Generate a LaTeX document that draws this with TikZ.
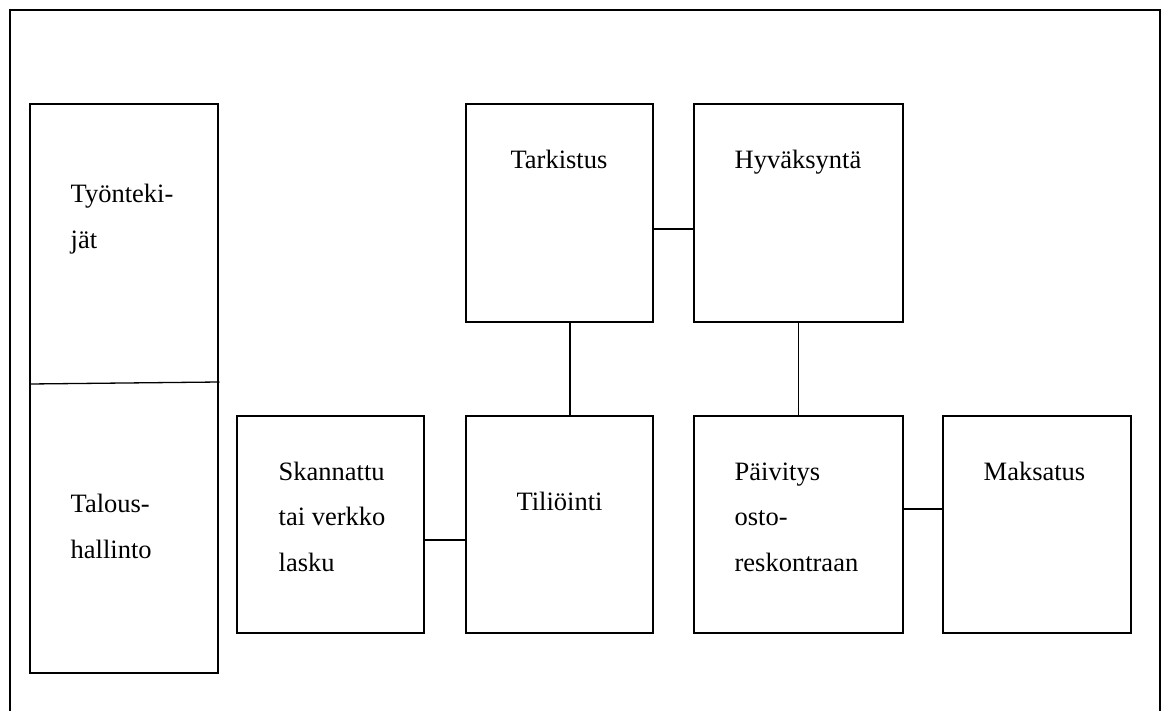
\documentclass[tikz,border=0pt]{standalone}
\usepackage{fontspec}
\setmainfont{Liberation Serif}
\begin{document}
\begin{tikzpicture}[x=1pt,y=-1pt,
  line width=1.3pt,
  box/.style={draw,rectangle,inner sep=0pt,outer sep=0pt,anchor=north west},
  lbl/.style={inner sep=0pt,font=\fontsize{26.5}{46}\selectfont},
  wire/.style={draw,line width=1.3pt}]
\useasboundingbox (0,0) rectangle (1163,711);
% open outer frame
\draw (10,711) -- (10,10) -- (1160,10) -- (1160,711);

% left column: two stacked regions
\node[box,minimum width=188pt,minimum height=569pt] (col) at (30,104) {};
\coordinate (divl) at (30,384);
\coordinate (divr) at (219.5,382);
\draw (divl) -- (divr);
\node[lbl,anchor=base west] (tt) at (70,203)
  {\begin{tabular}[t]{@{}l@{}}Työnteki-\\jät\end{tabular}};
\node[lbl,anchor=base west] (th) at (70,512)
  {\begin{tabular}[t]{@{}l@{}}Talous-\\hallinto\end{tabular}};

% process boxes
\node[box,minimum width=187pt,minimum height=218pt] (tark) at (466,104) {};
\node[box,minimum width=209pt,minimum height=218pt] (hyv)  at (694,104) {};
\node[box,minimum width=187pt,minimum height=217pt] (skan) at (237,416) {};
\node[box,minimum width=187pt,minimum height=217pt] (tili) at (466,416) {};
\node[box,minimum width=209pt,minimum height=217pt] (paiv) at (694,416) {};
\node[box,minimum width=188pt,minimum height=217pt] (maks) at (943,416) {};

% box texts
\node[lbl,anchor=base] (tarkt) at (559,169) {Tarkistus};
\node[lbl,anchor=base] (hyvt) at (798,169) {Hyväksyntä};
\node[lbl,anchor=base west] (skant) at (278,480)
  {\begin{tabular}[t]{@{}l@{}}Skannattu\\tai verkko\\lasku\end{tabular}};
\node[lbl,anchor=base] (tilit) at (559.5,511) {Tiliöinti};
\node[lbl,anchor=base west] (paivt) at (734,480)
  {\begin{tabular}[t]{@{}l@{}}Päivitys\\osto-\\reskontraan\end{tabular}};
\node[lbl,anchor=base] (makst) at (1034.5,480) {Maksatus};

% connectors
\draw[wire] ([yshift=-16pt]tark.east) -- ([yshift=-16pt]tark.east -| hyv.west);
\draw[wire] ([xshift=10.5pt]tark.south) -- ([xshift=10.5pt]tark.south |- tili.north);
\draw[wire] (hyv.south) -- (hyv.south |- paiv.north);
\draw[wire] ([yshift=-15.5pt]skan.east) -- ([yshift=-15.5pt]skan.east -| tili.west);
\draw[wire] ([yshift=15.5pt]paiv.east) -- ([yshift=15.5pt]paiv.east -| maks.west);
\end{tikzpicture}
\end{document}
